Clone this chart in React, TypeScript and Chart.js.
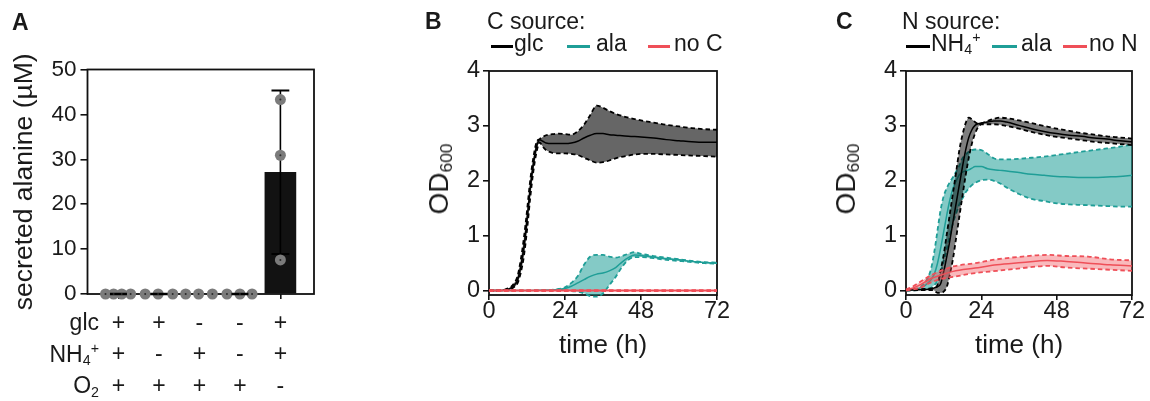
import React, { useEffect, useRef } from 'react';
import { Chart, registerables } from 'chart.js';

Chart.register(...registerables);

const FONT = '"Liberation Sans", Arial, Helvetica, sans-serif';
const TEXT = '#1a1a1a';

// ---------------- Panel A: secreted alanine ----------------
const conditionIndex = [0, 1, 2, 3, 4];
const glcRow = ['+', '+', '-', '-', '+'];
const nh4Row = ['+', '-', '+', '-', '+'];
const o2Row = ['+', '+', '+', '+', '-'];
const alanineMean = [0, 0, 0, 0, 27.1];
const alanineSD = [0, 0, 0, 0, 18.2];
const alanineReplicates = [
  [0, 0, 0, 0],
  [0, 0, 0],
  [0, 0, 0],
  [0, 0, 0],
  [43.3, 30.9, 7.6],
];
const alanineTicks = [0, 10, 20, 30, 40, 50];

// ---------------- Panel B: C source (time h, OD600) ----------------
const bGlcTime = [0, 3, 5, 7, 8, 9, 10, 11, 12, 13, 14, 15, 16, 17, 18, 20, 22, 24, 26, 28, 30, 32, 34, 36, 38, 40, 44, 48, 52, 56, 60, 64, 68, 72];
const bGlcMean = [0, 0, 0.01, 0.05, 0.1, 0.19, 0.43, 0.78, 1.28, 1.85, 2.3, 2.62, 2.75, 2.72, 2.69, 2.68, 2.68, 2.68, 2.69, 2.72, 2.78, 2.83, 2.86, 2.86, 2.84, 2.83, 2.81, 2.8, 2.78, 2.75, 2.73, 2.71, 2.7, 2.7];
const bGlcUpper = [0, 0, 0.02, 0.07, 0.14, 0.26, 0.55, 0.95, 1.45, 2.0, 2.42, 2.7, 2.76, 2.8, 2.83, 2.85, 2.86, 2.85, 2.84, 2.9, 3.02, 3.2, 3.37, 3.33, 3.27, 3.22, 3.15, 3.1, 3.06, 3.02, 2.99, 2.96, 2.94, 2.93];
const bGlcLower = [0, 0, 0, 0.03, 0.07, 0.13, 0.32, 0.62, 1.1, 1.68, 2.17, 2.52, 2.7, 2.62, 2.56, 2.51, 2.5, 2.5, 2.49, 2.47, 2.42, 2.37, 2.33, 2.34, 2.37, 2.41, 2.46, 2.49, 2.49, 2.48, 2.47, 2.46, 2.45, 2.44];

const bAlaTime = [0, 10, 18, 22, 24, 26, 28, 30, 32, 34, 36, 38, 40, 42, 44, 46, 48, 52, 56, 60, 64, 68, 72];
const bAlaMean = [0, 0, 0.01, 0.02, 0.04, 0.08, 0.14, 0.2, 0.26, 0.3, 0.32, 0.36, 0.42, 0.52, 0.6, 0.65, 0.64, 0.61, 0.58, 0.56, 0.53, 0.51, 0.5];
const bAlaUpper = [0, 0, 0.01, 0.03, 0.06, 0.14, 0.26, 0.47, 0.62, 0.65, 0.65, 0.62, 0.6, 0.63, 0.67, 0.7, 0.67, 0.63, 0.6, 0.57, 0.54, 0.52, 0.51];
const bAlaLower = [0, 0, 0, 0, 0, -0.01, -0.02, -0.05, -0.1, -0.11, -0.05, 0.1, 0.25, 0.43, 0.56, 0.61, 0.61, 0.59, 0.56, 0.54, 0.52, 0.5, 0.49];

const bNoCTime = [0, 24, 48, 72];
const bNoCMean = [0, 0, 0, 0];
const bNoCUpper = [0.01, 0.01, 0.01, 0.01];
const bNoCLower = [-0.01, -0.01, -0.01, -0.01];

// ---------------- Panel C: N source (time h, OD600) ----------------
const cNh4Time = [0, 6, 8, 9, 10, 11, 12, 13, 14, 15, 16, 17, 18, 19, 20, 21, 22, 23, 24, 26, 28, 30, 32, 36, 40, 44, 48, 52, 56, 60, 64, 68, 72];
const cNh4Mean = [0.01, 0.02, 0.03, 0.05, 0.07, 0.12, 0.34, 0.62, 0.92, 1.26, 1.6, 1.93, 2.26, 2.56, 2.79, 2.93, 3.01, 3.04, 3.05, 3.07, 3.09, 3.09, 3.07, 3.01, 2.95, 2.9, 2.86, 2.83, 2.81, 2.78, 2.76, 2.73, 2.71];
const cNh4Upper = [0.02, 0.03, 0.04, 0.05, 0.1, 0.36, 0.65, 1.03, 1.41, 1.79, 2.17, 2.56, 2.84, 3.05, 3.15, 3.12, 3.07, 3.04, 3.05, 3.09, 3.13, 3.15, 3.14, 3.1, 3.05, 3.0, 2.95, 2.91, 2.87, 2.84, 2.81, 2.79, 2.77];
const cNh4Lower = [0, 0.01, 0.01, 0, -0.04, -0.04, -0.02, 0.07, 0.3, 0.59, 0.97, 1.35, 1.73, 2.1, 2.42, 2.68, 2.86, 2.98, 3.03, 3.03, 3.03, 3.02, 3.0, 2.95, 2.89, 2.84, 2.8, 2.77, 2.74, 2.71, 2.69, 2.67, 2.65];

const cAlaTime = [0, 4, 6, 7, 8, 9, 10, 11, 12, 13, 14, 15, 16, 17, 18, 19, 20, 21, 22, 24, 26, 28, 30, 32, 36, 40, 44, 48, 52, 56, 60, 64, 68, 72];
const cAlaMean = [0.01, 0.04, 0.09, 0.14, 0.2, 0.3, 0.49, 0.76, 1.07, 1.38, 1.66, 1.87, 2.0, 2.11, 2.16, 2.18, 2.2, 2.23, 2.26, 2.26, 2.22, 2.2, 2.19, 2.18, 2.15, 2.12, 2.1, 2.08, 2.07, 2.06, 2.06, 2.07, 2.08, 2.1];
const cAlaUpper = [0.02, 0.05, 0.14, 0.24, 0.4, 0.7, 1.08, 1.46, 1.72, 1.87, 1.98, 2.07, 2.17, 2.28, 2.41, 2.48, 2.53, 2.56, 2.57, 2.56, 2.49, 2.41, 2.39, 2.39, 2.4, 2.42, 2.44, 2.47, 2.5, 2.53, 2.56, 2.59, 2.62, 2.66];
const cAlaLower = [0, 0.01, 0.02, 0.03, 0.05, 0.1, 0.17, 0.3, 0.53, 0.76, 1.0, 1.24, 1.41, 1.57, 1.68, 1.79, 1.86, 1.92, 1.96, 2.01, 2.02, 2.0, 1.95, 1.88, 1.76, 1.67, 1.63, 1.59, 1.57, 1.56, 1.55, 1.54, 1.53, 1.53];

const cNoNTime = [0, 2, 4, 8, 11, 15, 22, 29, 37, 45, 51, 58, 65, 72];
const cNoNMean = [0.01, 0.04, 0.09, 0.22, 0.28, 0.35, 0.41, 0.47, 0.51, 0.55, 0.53, 0.5, 0.47, 0.45];
const cNoNUpper = [0.02, 0.07, 0.14, 0.28, 0.36, 0.44, 0.5, 0.57, 0.62, 0.65, 0.63, 0.62, 0.57, 0.55];
const cNoNLower = [0, 0.02, 0.04, 0.15, 0.21, 0.25, 0.32, 0.36, 0.41, 0.45, 0.42, 0.4, 0.38, 0.36];

const timeTicks = [0, 24, 48, 72];
const odTicks = [0, 1, 2, 3, 4];

// ---------------- styles ----------------
const BLACK = '#000000';
const TEAL = '#1f9e97';
const RED = '#ef4f58';
const DOT = '#7b7b7b';

// jitter of replicate dots (layout only)
const JITTER = [
  [-0.32, -0.12, 0.08, 0.3],
  [-0.34, -0.02, 0.34],
  [-0.34, -0.02, 0.32],
  [-0.32, 0, 0.3],
  [0, 0, 0],
];
const SHOW_MEAN_LINE = [true, true, false, true, false];

const framePlugin = {
  id: 'frame',
  beforeDatasetsDraw(chart: any) {
    const { ctx, chartArea } = chart;
    ctx.save();
    ctx.strokeStyle = '#111';
    ctx.lineWidth = 1.8;
    ctx.strokeRect(chartArea.left, chartArea.top, chartArea.right - chartArea.left, chartArea.bottom - chartArea.top);
    ctx.restore();
  },
};

function configA(): any {
  const points: any[] = [];
  alanineReplicates.forEach((reps, i) => reps.forEach((v, j) => points.push({ x: conditionIndex[i] + JITTER[i][j], y: v })));
  const meanLines: any[] = [];
  conditionIndex.forEach((c, i) => {
    if (!SHOW_MEAN_LINE[i]) return;
    meanLines.push({ x: c - 0.21, y: alanineMean[i] }, { x: c + 0.21, y: alanineMean[i] }, { x: c + 0.5, y: null });
  });
  const errStem: any[] = [];
  const errCaps: any[] = [];
  conditionIndex.forEach((c, i) => {
    if (alanineSD[i] <= 0) return;
    const lo = alanineMean[i] - alanineSD[i];
    const hi = alanineMean[i] + alanineSD[i];
    errStem.push({ x: c, y: lo }, { x: c, y: hi }, { x: c + 0.5, y: null });
    errCaps.push({ x: c - 0.22, y: hi }, { x: c + 0.22, y: hi }, { x: c + 0.5, y: null });
    errCaps.push({ x: c - 0.22, y: lo }, { x: c + 0.22, y: lo }, { x: c + 0.5, y: null });
  });
  return {
    type: 'scatter',
    data: {
      datasets: [
        {
          type: 'bar',
          data: conditionIndex.map((c, i) => ({ x: c, y: alanineMean[i] })),
          backgroundColor: '#121212',
          borderWidth: 0,
          barThickness: 31,
          order: 5,
        },
        {
          type: 'line',
          data: errStem,
          borderColor: '#000',
          borderWidth: 1.6,
          pointRadius: 0,
          spanGaps: false,
          order: 4,
          clip: false,
        },
        {
          type: 'line',
          data: errCaps,
          borderColor: '#000',
          borderWidth: 2,
          pointRadius: 0,
          spanGaps: false,
          order: 4,
          clip: false,
        },
        {
          type: 'line',
          data: meanLines,
          borderColor: '#000',
          borderWidth: 2.6,
          pointRadius: 0,
          spanGaps: false,
          order: 1,
          clip: false,
        },
        {
          type: 'scatter',
          data: points,
          pointRadius: 5.5,
          pointBackgroundColor: DOT,
          pointBorderWidth: 0,
          order: 2,
          clip: false,
        },
        {
          type: 'scatter',
          data: points,
          pointRadius: 1,
          pointBackgroundColor: '#2a2a2a',
          pointBorderWidth: 0,
          order: 0,
          clip: false,
        },
      ],
    },
    options: {
      responsive: false,
      animation: false,
      events: [],
      layout: { padding: { top: 69.5, right: 16, left: 0, bottom: 0 } },
      plugins: { legend: { display: false }, tooltip: { enabled: false } },
      scales: {
        x: {
          type: 'linear',
          min: -0.765,
          max: 4.83,
          offset: false,
          afterBuildTicks: (s: any) => {
            s.ticks = conditionIndex.map((v) => ({ value: v }));
          },
          afterFit: (s: any) => {
            s.height = 107;
          },
          border: { display: false },
          grid: { display: true, offset: false, drawOnChartArea: false, drawTicks: true, tickLength: 5, color: '#111', lineWidth: 1.6 },
          ticks: {
            autoSkip: false,
            maxRotation: 0,
            padding: 8.5,
            color: TEXT,
            font: { family: FONT, size: 23, lineHeight: '31.7px' },
            callback: (_v: any, i: number) => [glcRow[i], nh4Row[i], o2Row[i]],
          },
        },
        y: {
          min: 0,
          max: 50,
          afterBuildTicks: (s: any) => {
            s.ticks = alanineTicks.map((v) => ({ value: v }));
          },
          afterFit: (s: any) => {
            s.width = 87.5;
          },
          border: { display: false },
          grid: { display: true, drawOnChartArea: false, drawTicks: true, tickLength: 7, color: '#111', lineWidth: 1.6 },
          ticks: { padding: 4, color: TEXT, font: { family: FONT, size: 22.5, lineHeight: 1 } },
          title: {
            display: true,
            text: 'secreted alanine (µM)',
            color: TEXT,
            font: { family: FONT, size: 26.5, lineHeight: 1.2 },
            padding: { top: 9, bottom: 0 },
          },
        },
      },
    },
    plugins: [framePlugin],
  };
}

type Series = {
  time: number[];
  mean: number[];
  upper: number[];
  lower: number[];
  color: string;
  fill: string;
  meanWidth: number;
  z: number;
};

function bandDatasets(s: Series) {
  const pts = (arr: number[]) => arr.map((v, i) => ({ x: s.time[i], y: v }));
  const common = { pointRadius: 0, cubicInterpolationMode: 'monotone', clip: false, borderColor: s.color };
  return [
    { ...common, data: pts(s.upper), borderWidth: 1.8, borderDash: [4.5, 3], fill: false, order: s.z * 10 + 1 },
    { ...common, data: pts(s.lower), borderWidth: 1.8, borderDash: [4.5, 3], fill: '-1', backgroundColor: s.fill, order: s.z * 10 + 2 },
    { ...common, data: pts(s.mean), borderWidth: s.meanWidth, fill: false, order: s.z * 10 },
  ];
}

function growthConfig(series: Series[], axisWidth: number, rightPad: number): any {
  return {
    type: 'line',
    data: { datasets: series.flatMap(bandDatasets) },
    options: {
      responsive: false,
      animation: false,
      events: [],
      layout: { padding: { top: 71, right: rightPad, left: 0, bottom: 0 } },
      plugins: { legend: { display: false }, tooltip: { enabled: false } },
      scales: {
        x: {
          type: 'linear',
          min: 0,
          max: 72,
          afterBuildTicks: (s: any) => {
            s.ticks = timeTicks.map((v) => ({ value: v }));
          },
          afterFit: (s: any) => {
            s.height = 106;
          },
          border: { display: false },
          grid: { display: true, drawOnChartArea: false, drawTicks: true, tickLength: 5, color: '#111', lineWidth: 1.6 },
          ticks: { autoSkip: false, maxRotation: 0, padding: 0, color: TEXT, font: { family: FONT, size: 23.5, lineHeight: 1 } },
          title: {
            display: true,
            text: 'time (h)',
            color: TEXT,
            font: { family: FONT, size: 26, lineHeight: 1.2 },
            padding: { top: 0, bottom: 40 },
          },
        },
        y: {
          min: -0.08,
          max: 4,
          afterBuildTicks: (s: any) => {
            s.ticks = odTicks.map((v) => ({ value: v }));
          },
          afterFit: (s: any) => {
            s.width = axisWidth;
          },
          border: { display: false },
          grid: { display: true, drawOnChartArea: false, drawTicks: true, tickLength: 6, color: '#111', lineWidth: 1.6 },
          ticks: { padding: 3, color: TEXT, font: { family: FONT, size: 23.5, lineHeight: 1 } },
        },
      },
    },
    plugins: [framePlugin],
  };
}

const seriesB: Series[] = [
  { time: bAlaTime, mean: bAlaMean, upper: bAlaUpper, lower: bAlaLower, color: TEAL, fill: 'rgba(31,158,151,0.55)', meanWidth: 1.5, z: 2 },
  { time: bGlcTime, mean: bGlcMean, upper: bGlcUpper, lower: bGlcLower, color: BLACK, fill: 'rgba(0,0,0,0.6)', meanWidth: 1.5, z: 1 },
  { time: bNoCTime, mean: bNoCMean, upper: bNoCUpper, lower: bNoCLower, color: RED, fill: 'rgba(239,79,88,0.4)', meanWidth: 2, z: 0 },
];

const seriesC: Series[] = [
  { time: cAlaTime, mean: cAlaMean, upper: cAlaUpper, lower: cAlaLower, color: TEAL, fill: 'rgba(31,158,151,0.55)', meanWidth: 1.5, z: 2 },
  { time: cNh4Time, mean: cNh4Mean, upper: cNh4Upper, lower: cNh4Lower, color: BLACK, fill: 'rgba(0,0,0,0.5)', meanWidth: 1.5, z: 1 },
  { time: cNoNTime, mean: cNoNMean, upper: cNoNUpper, lower: cNoNLower, color: RED, fill: 'rgba(239,79,88,0.4)', meanWidth: 1.5, z: 0 },
];

// ---------------- text helpers ----------------
const ASC = 0.8465;

function Label(props: { x: number; y: number; size: number; bold?: boolean; align?: 'left' | 'right' | 'center'; children: any }) {
  const { x, y, size, bold, align = 'left', children } = props;
  const tx = align === 'right' ? 'translateX(-100%)' : align === 'center' ? 'translateX(-50%)' : 'none';
  return (
    <div
      style={{
        position: 'absolute',
        left: x,
        top: y - ASC * size,
        fontSize: size,
        lineHeight: 1,
        fontWeight: bold ? 700 : 400,
        whiteSpace: 'nowrap',
        transform: tx,
      }}
    >
      {children}
    </div>
  );
}

const Sub = ({ children }: { children: any }) => (
  <span style={{ fontSize: '0.62em', position: 'relative', top: '0.25em' }}>{children}</span>
);
const Sup = ({ children }: { children: any }) => (
  <span style={{ fontSize: '0.62em', position: 'relative', top: '-0.6em' }}>{children}</span>
);

function Seg({ x, w, y, color }: { x: number; w: number; y: number; color: string }) {
  return <div style={{ position: 'absolute', left: x, top: y - 1.75, width: w, height: 3.5, background: color }} />;
}

function YTitle({ cx, cy, size }: { cx: number; cy: number; size: number }) {
  return (
    <div
      style={{
        position: 'absolute',
        left: cx,
        top: cy,
        fontSize: size,
        lineHeight: 1,
        whiteSpace: 'nowrap',
        transform: 'translate(-50%, -50%) rotate(-90deg)',
      }}
    >
      OD<Sub>600</Sub>
    </div>
  );
}

export default function App() {
  const refA = useRef<HTMLCanvasElement>(null);
  const refB = useRef<HTMLCanvasElement>(null);
  const refC = useRef<HTMLCanvasElement>(null);

  useEffect(() => {
    const charts = [
      new Chart(refA.current as HTMLCanvasElement, configA()),
      new Chart(refB.current as HTMLCanvasElement, growthConfig(seriesB, 89, 33)),
      new Chart(refC.current as HTMLCanvasElement, growthConfig(seriesC, 106, 18)),
    ];
    return () => charts.forEach((c) => c.destroy());
  }, []);

  return (
    <div
      style={{
        position: 'fixed',
        left: 0,
        top: 0,
        width: 1150,
        height: 401,
        background: '#fff',
        overflow: 'hidden',
        fontFamily: FONT,
        color: TEXT,
      }}
    >
      <canvas ref={refA} width={330} height={401} style={{ position: 'absolute', left: 0, top: 0 }} />
      <canvas ref={refB} width={350} height={401} style={{ position: 'absolute', left: 400, top: 0 }} />
      <canvas ref={refC} width={350} height={401} style={{ position: 'absolute', left: 800, top: 0 }} />

      {/* Panel A */}
      <Label x={12} y={30} size={23} bold>A</Label>
      <Label x={99} y={330.5} size={23} align="right">glc</Label>
      <Label x={99} y={362} size={23} align="right">
        NH<Sub>4</Sub><Sup>+</Sup>
      </Label>
      <Label x={99} y={393.5} size={23} align="right">
        O<Sub>2</Sub>
      </Label>

      {/* Panel B */}
      <Label x={425} y={29} size={23} bold>B</Label>
      <Label x={487} y={29} size={23}>C source:</Label>
      <Seg x={491} w={22} y={46.7} color={BLACK} />
      <Label x={514} y={51} size={23}>glc</Label>
      <Seg x={567} w={23} y={46.7} color={TEAL} />
      <Label x={596} y={51} size={23}>ala</Label>
      <Seg x={648} w={22} y={46.7} color={RED} />
      <Label x={674} y={51} size={23}>no C</Label>
      <YTitle cx={439} cy={178.5} size={28} />

      {/* Panel C */}
      <Label x={836} y={29} size={23} bold>C</Label>
      <Label x={902} y={29} size={23}>N source:</Label>
      <Seg x={906} w={24} y={46.7} color={BLACK} />
      <Label x={931} y={51} size={23}>
        NH<Sub>4</Sub><Sup>+</Sup>
      </Label>
      <Seg x={992} w={25} y={46.7} color={TEAL} />
      <Label x={1021} y={51} size={23}>ala</Label>
      <Seg x={1063} w={24} y={46.7} color={RED} />
      <Label x={1089} y={51} size={23}>no N</Label>
      <YTitle cx={846} cy={178.5} size={28} />
    </div>
  );
}
